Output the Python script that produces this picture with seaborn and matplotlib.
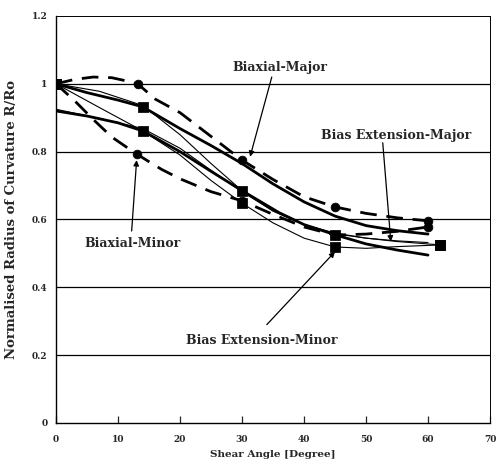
import matplotlib
matplotlib.use("Agg")
import matplotlib.pyplot as plt
import seaborn as sns

# measured points (markers)
bx_major_x = [0, 13.3, 30, 45, 60]
bx_major_y = [1.0, 1.0, 0.775, 0.637, 0.596]
bx_minor_x = [0, 13, 30, 45, 60]
bx_minor_y = [1.0, 0.793, 0.655, 0.554, 0.578]
be_major_x = [0, 14, 30, 45, 62]
be_major_y = [1.0, 0.932, 0.685, 0.555, 0.525]
be_minor_x = [0, 14, 30, 45, 62]
be_minor_y = [1.0, 0.861, 0.648, 0.519, 0.525]

# dashed curves through the biaxial points
bx_major_cx = [0, 3, 6, 9, 12, 13.3, 16, 20, 25, 30, 35, 40, 45, 50, 55, 60]
bx_major_cy = [1.0, 1.013, 1.02, 1.018, 1.006, 0.998, 0.955, 0.915, 0.845, 0.775,
               0.718, 0.667, 0.637, 0.618, 0.605, 0.596]
bx_minor_cx = [0, 3, 6, 9, 13, 17, 20, 25, 30, 35, 40, 45, 50, 55, 60]
bx_minor_cy = [1.0, 0.95, 0.895, 0.843, 0.793, 0.748, 0.72, 0.682, 0.655,
               0.615, 0.578, 0.554, 0.557, 0.565, 0.578]

# thin curves through the bias extension points
be_major_cx = [0, 7, 14, 20, 25, 30, 35, 40, 45, 50, 55, 62]
be_major_cy = [1.0, 0.978, 0.936, 0.85, 0.765, 0.685, 0.625, 0.585, 0.56,
               0.545, 0.535, 0.525]
be_minor_cx = [0, 7, 14, 20, 25, 30, 35, 40, 45, 50, 55, 62]
be_minor_cy = [1.0, 0.93, 0.861, 0.79, 0.715, 0.648, 0.59, 0.545, 0.519,
               0.515, 0.52, 0.525]
extra_thin_x = [0, 7, 14, 20, 25, 30, 35, 40, 45, 50, 55, 60]
extra_thin_y = [0.925, 0.898, 0.868, 0.81, 0.745, 0.682, 0.625, 0.585, 0.558,
                0.545, 0.537, 0.532]

# thick model curves
model_major_x = [0, 5, 10, 14, 17, 20, 25, 30, 35, 40, 45, 50, 55, 60]
model_major_y = [1.0, 0.974, 0.952, 0.932, 0.9, 0.868, 0.818, 0.765, 0.705,
                 0.652, 0.61, 0.582, 0.567, 0.557]
model_minor_x = [0, 5, 10, 14, 20, 25, 30, 36, 40, 45, 50, 55, 60]
model_minor_y = [0.92, 0.905, 0.885, 0.861, 0.8, 0.742, 0.685, 0.62, 0.585,
                 0.555, 0.528, 0.51, 0.495]

x_ticks = [0, 10, 20, 30, 40, 50, 60, 70]
y_ticks = [0, 0.2, 0.4, 0.6, 0.8, 1.0, 1.2]
y_tick_labels = ["0", "0.2", "0.4", "0.6", "0.8", "1", "1.2"]

sns.set_style("white")
plt.rcParams['font.family'] = ['DejaVu Serif']

fig = plt.figure(figsize=(5.02, 4.66), dpi=100)
ax = fig.add_axes([0.1116, 0.0923, 0.8645, 0.8734])

for yv in y_ticks[1:-1]:
    ax.axhline(yv, color="black", lw=0.9, zorder=1)

dash = (6, 3.5)
sns.lineplot(x=bx_major_cx, y=bx_major_cy, ax=ax, color="black", lw=2.0,
             sort=False, estimator=None)
ax.lines[-1].set_dashes(dash)
sns.lineplot(x=bx_minor_cx, y=bx_minor_cy, ax=ax, color="black", lw=2.0,
             sort=False, estimator=None)
ax.lines[-1].set_dashes(dash)
for cx, cy in [(be_major_cx, be_major_cy), (be_minor_cx, be_minor_cy),
               (extra_thin_x, extra_thin_y)]:
    sns.lineplot(x=cx, y=cy, ax=ax, color="black", lw=0.8,
                 sort=False, estimator=None)
for cx, cy in [(model_major_x, model_major_y), (model_minor_x, model_minor_y)]:
    sns.lineplot(x=cx, y=cy, ax=ax, color="black", lw=2.0,
                 sort=False, estimator=None)

sns.scatterplot(x=bx_major_x, y=bx_major_y, ax=ax, color="black", marker="o",
                s=40, edgecolor="black", zorder=5)
sns.scatterplot(x=bx_minor_x, y=bx_minor_y, ax=ax, color="black", marker="o",
                s=40, edgecolor="black", zorder=5)
sns.scatterplot(x=be_major_x, y=be_major_y, ax=ax, color="black", marker="s",
                s=45, edgecolor="black", zorder=5)
sns.scatterplot(x=be_minor_x, y=be_minor_y, ax=ax, color="black", marker="s",
                s=45, edgecolor="black", zorder=5)

ax.set_xlim(0, 70)
ax.set_ylim(0, 1.2)
ax.set_xticks(x_ticks)
ax.set_yticks(y_ticks)
ax.set_yticklabels(y_tick_labels)
ax.tick_params(axis="x", direction="in", length=5, width=0.9, pad=9,
               labelsize=6.5, bottom=True)
ax.tick_params(axis="y", length=0, pad=6, labelsize=6.5)
for lab in ax.get_xticklabels() + ax.get_yticklabels():
    lab.set_fontweight("bold")

for side in ["left", "bottom"]:
    ax.spines[side].set_color("black")
    ax.spines[side].set_linewidth(1.0)
for side in ["top", "right"]:
    ax.spines[side].set_color("black")
    ax.spines[side].set_linewidth(0.7)
    ax.spines[side].set_linestyle((0, (1, 1)))

ax.set_xlabel("Shear Angle [Degree]", fontsize=7.5, fontweight="bold",
              labelpad=4)
ax.set_ylabel("Normalised Radius of Curvature R/Ro", fontsize=9.5,
              fontweight="bold", labelpad=10)

arrow = dict(arrowstyle="-|>", color="black", lw=0.9, mutation_scale=8,
             shrinkA=0, shrinkB=0)
tkw = dict(fontsize=9, fontweight="bold", ha="center", va="center")
ax.text(36.1, 1.047, "Biaxial-Major", **tkw)
ax.annotate("", xy=(31.3, 0.785), xytext=(34.8, 1.02), arrowprops=arrow)
ax.text(54.8, 0.849, "Bias Extension-Major", **tkw)
ax.annotate("", xy=(54.0, 0.535), xytext=(52.7, 0.826), arrowprops=arrow)
ax.text(12.3, 0.528, "Biaxial-Minor", **tkw)
ax.annotate("", xy=(13.0, 0.775), xytext=(12.2, 0.566), arrowprops=arrow)
ax.text(33.2, 0.242, "Bias Extension-Minor", **tkw)
ax.annotate("", xy=(45.0, 0.505), xytext=(34.0, 0.29), arrowprops=arrow)

fig.savefig("out.png", dpi=100)
